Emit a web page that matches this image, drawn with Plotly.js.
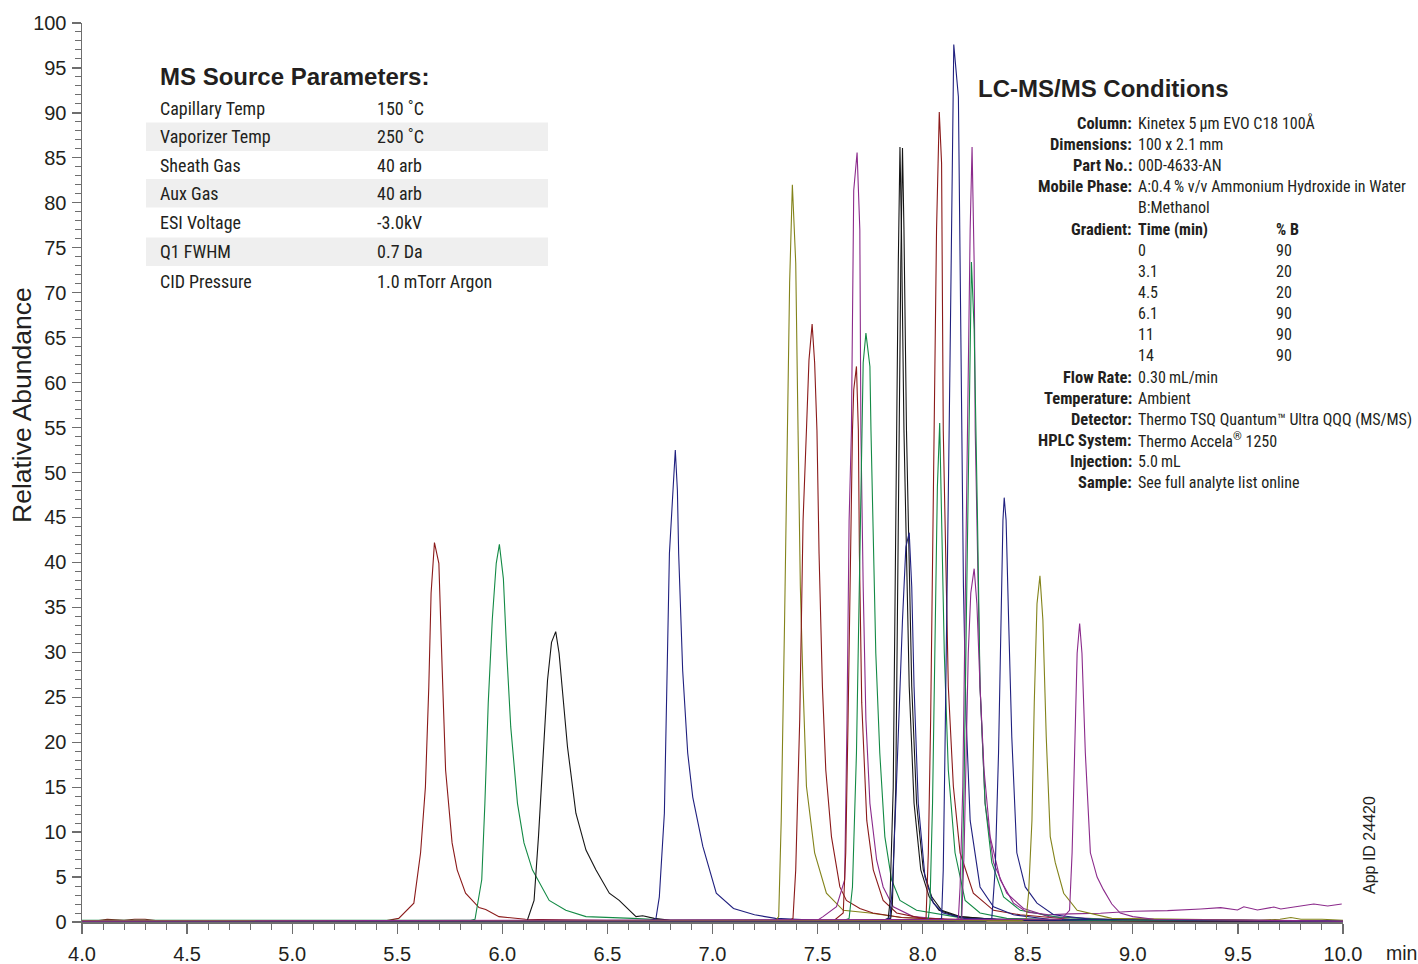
<!DOCTYPE html>
<html>
<head>
<meta charset="utf-8">
<script src="https://cdn.plot.ly/plotly-3.0.1.min.js"></script>
<style>
  html, body { margin: 0; padding: 0; background: #fff; }
  #chart { width: 1418px; height: 964px; }
</style>
</head>
<body>
<div id="chart"></div>
<script>
// ---------------- DATA (retention time in min, relative abundance in %) ----------------
const t01 = [4.0, 4.08, 4.12, 4.2, 4.25, 4.3, 4.35, 5.45, 5.507, 5.579, 5.611, 5.634, 5.650, 5.661, 5.677, 5.698, 5.714, 5.730, 5.761, 5.785, 5.825, 5.889, 5.921, 5.984, 6.11, 6.5, 10.0];
const a01 = [0.1, 0.15, 0.3, 0.2, 0.3, 0.3, 0.15, 0.15, 0.4, 2.1, 7.7, 15.0, 26.1, 36.6, 42.2, 39.9, 28.0, 16.9, 8.8, 5.8, 3.2, 1.6, 1.4, 0.6, 0.3, 0.15, 0.1];

const t02 = [4.0, 5.85, 5.870, 5.902, 5.917, 5.933, 5.952, 5.971, 5.986, 6.005, 6.021, 6.040, 6.072, 6.103, 6.143, 6.223, 6.302, 6.398, 6.62, 6.8, 10.0];
const a02 = [0.2, 0.2, 0.3, 4.7, 13.2, 24.4, 33.6, 39.9, 42.0, 38.2, 29.9, 21.7, 13.2, 8.8, 5.8, 2.4, 1.3, 0.6, 0.4, 0.2, 0.15];

const t03 = [4.0, 6.10, 6.119, 6.151, 6.172, 6.194, 6.215, 6.234, 6.254, 6.270, 6.286, 6.310, 6.350, 6.398, 6.445, 6.509, 6.556, 6.636, 6.668, 6.723, 6.8, 10.0];
const a03 = [0.1, 0.1, 0.2, 2.4, 9.5, 18.8, 26.9, 31.1, 32.3, 29.9, 25.5, 19.5, 12.1, 8.0, 5.8, 3.2, 2.4, 0.6, 0.7, 0.4, 0.2, 0.1];

const t04 = [4.0, 6.70, 6.731, 6.747, 6.771, 6.782, 6.795, 6.823, 6.833, 6.839, 6.858, 6.882, 6.906, 6.954, 7.018, 7.1, 7.2, 7.3, 7.5, 10.0];
const a04 = [0.1, 0.1, 0.4, 2.8, 12.1, 26.2, 41.0, 52.5, 48.0, 41.0, 28.0, 18.8, 13.9, 8.4, 3.2, 1.5, 0.8, 0.4, 0.2, 0.1];

const t05 = [4.0, 7.30, 7.315, 7.327, 7.343, 7.356, 7.367, 7.380, 7.396, 7.407, 7.418, 7.431, 7.447, 7.486, 7.542, 7.622, 7.749, 7.9, 8.1, 8.5, 9.0, 10.0];
const a05 = [0.15, 0.15, 0.6, 11.3, 33.6, 54.7, 71.1, 82.0, 73.3, 54.7, 37.3, 26.2, 15.1, 7.7, 3.2, 1.3, 1.0, 0.5, 0.3, 0.2, 0.15, 0.15];

const t06 = [4.0, 7.36, 7.383, 7.396, 7.415, 7.431, 7.447, 7.459, 7.474, 7.486, 7.497, 7.507, 7.523, 7.539, 7.566, 7.606, 7.637, 7.701, 7.763, 7.9, 8.2, 10.0];
const a06 = [0.1, 0.1, 0.4, 5.8, 22.5, 44.7, 54.7, 62.5, 66.5, 62.2, 54.7, 41.0, 26.2, 16.9, 9.5, 3.9, 2.4, 1.5, 1.0, 0.5, 0.2, 0.1];

const t07 = [4.0, 7.45, 7.50, 7.526, 7.590, 7.629, 7.640, 7.650, 7.661, 7.672, 7.688, 7.701, 7.706, 7.717, 7.730, 7.749, 7.781, 7.812, 7.860, 7.955, 8.1, 10.0];
const a07 = [0.1, 0.1, 0.2, 0.6, 1.7, 4.7, 22.5, 44.7, 54.7, 81.4, 85.6, 77.0, 54.7, 37.3, 22.5, 13.2, 6.9, 3.9, 1.7, 0.6, 0.3, 0.1];

const t08 = [4.0, 7.58, 7.622, 7.634, 7.645, 7.656, 7.666, 7.672, 7.685, 7.694, 7.699, 7.710, 7.734, 7.765, 7.812, 7.876, 8.0, 8.3, 10.0];
const a08 = [0.1, 0.2, 1.0, 7.7, 22.5, 41.0, 54.7, 59.2, 61.8, 54.7, 41.0, 24.4, 11.3, 5.8, 2.4, 1.0, 0.4, 0.2, 0.1];

const t09 = [4.0, 7.62, 7.650, 7.666, 7.685, 7.698, 7.710, 7.717, 7.730, 7.749, 7.754, 7.762, 7.777, 7.796, 7.820, 7.852, 7.892, 7.971, 8.051, 8.2, 8.5, 10.0];
const a09 = [0.15, 0.15, 0.4, 3.9, 18.8, 37.3, 54.7, 62.2, 65.5, 61.8, 54.7, 44.7, 29.9, 18.8, 9.5, 4.7, 2.4, 1.3, 1.0, 0.4, 0.2, 0.15];

const t10 = [4.0, 7.80, 7.836, 7.844, 7.860, 7.876, 7.884, 7.892, 7.899, 7.911, 7.920, 7.936, 7.959, 7.991, 8.031, 8.078, 8.166, 8.4, 10.0];
const a10 = [0.1, 0.1, 0.4, 2.1, 15.0, 55.8, 73.3, 86.2, 77.0, 54.7, 44.7, 26.2, 13.2, 5.8, 2.8, 1.3, 0.6, 0.2, 0.1];

const t11 = [4.0, 7.81, 7.848, 7.856, 7.872, 7.888, 7.896, 7.904, 7.911, 7.923, 7.932, 7.948, 7.971, 8.003, 8.043, 8.090, 8.178, 8.4, 10.0];
const a11 = [0.1, 0.1, 0.4, 2.1, 15.0, 55.8, 73.3, 86.1, 77.0, 54.7, 44.7, 26.2, 13.2, 5.8, 2.8, 1.3, 0.6, 0.2, 0.1];

const t12 = [4.0, 7.80, 7.844, 7.856, 7.872, 7.888, 7.904, 7.920, 7.936, 7.948, 7.959, 7.979, 8.011, 8.051, 8.098, 8.2, 8.5, 10.0];
const a12 = [0.1, 0.1, 0.4, 3.9, 13.2, 24.4, 33.6, 41.7, 43.3, 37.3, 26.2, 13.2, 5.0, 2.1, 1.0, 0.4, 0.2, 0.1];

const t13 = [4.0, 7.98, 8.016, 8.027, 8.038, 8.047, 8.055, 8.066, 8.079, 8.090, 8.098, 8.106, 8.122, 8.146, 8.178, 8.241, 8.337, 8.464, 8.7, 10.0];
const a13 = [0.1, 0.1, 0.4, 7.7, 22.5, 41.0, 54.7, 77.0, 90.1, 84.4, 54.7, 44.7, 26.2, 15.1, 7.7, 3.2, 1.3, 0.8, 0.3, 0.1];

const t14 = [4.0, 8.0, 8.027, 8.035, 8.047, 8.059, 8.070, 8.081, 8.090, 8.103, 8.122, 8.154, 8.202, 8.273, 8.4, 8.8, 10.0];
const a14 = [0.15, 0.15, 0.4, 2.1, 13.2, 29.9, 48.4, 55.5, 44.7, 29.9, 16.9, 7.7, 2.4, 1.0, 0.4, 0.2, 0.15];

const t15 = [4.0, 8.06, 8.090, 8.098, 8.106, 8.118, 8.126, 8.130, 8.138, 8.148, 8.170, 8.178, 8.186, 8.194, 8.207, 8.226, 8.273, 8.337, 8.432, 8.6, 10.0];
const a15 = [0.1, 0.1, 0.4, 5.8, 18.8, 37.3, 54.7, 62.2, 80.7, 97.6, 91.8, 73.3, 54.7, 37.3, 22.5, 11.3, 3.9, 1.7, 0.8, 0.3, 0.1];

const t16 = [4.0, 8.14, 8.170, 8.178, 8.191, 8.202, 8.213, 8.226, 8.235, 8.245, 8.250, 8.261, 8.273, 8.297, 8.337, 8.400, 8.480, 8.6, 9.0, 10.0];
const a16 = [0.1, 0.1, 0.4, 3.9, 15.1, 33.6, 54.7, 77.0, 86.2, 73.3, 54.7, 41.0, 26.2, 13.2, 6.6, 3.2, 1.5, 0.6, 0.2, 0.1];

const t17 = [4.0, 8.15, 8.184, 8.197, 8.210, 8.219, 8.226, 8.232, 8.245, 8.254, 8.261, 8.273, 8.297, 8.329, 8.385, 8.464, 8.65, 9.0, 10.0];
const a17 = [0.15, 0.15, 0.4, 15.1, 37.3, 54.7, 65.9, 73.4, 65.9, 54.7, 44.7, 26.2, 13.2, 6.6, 2.8, 1.3, 0.5, 0.2, 0.15];

const t18 = [4.0, 8.15, 8.186, 8.197, 8.207, 8.217, 8.229, 8.245, 8.258, 8.273, 8.292, 8.321, 8.369, 8.432, 8.496, 8.6, 8.7, 8.846, 9.003, 9.165, 9.323, 9.418, 9.498, 9.528, 9.593, 9.671, 9.704, 9.799, 9.861, 9.927, 9.994];
const a18 = [0.1, 0.1, 0.4, 7.7, 18.8, 29.9, 36.6, 39.3, 35.4, 26.2, 16.9, 9.5, 4.7, 2.1, 1.1, 0.8, 0.9, 0.97, 1.2, 1.26, 1.45, 1.6, 1.34, 1.7, 1.34, 1.67, 1.45, 1.78, 2.0, 1.78, 2.0];

const t19 = [4.0, 8.30, 8.329, 8.345, 8.361, 8.372, 8.382, 8.388, 8.397, 8.409, 8.424, 8.448, 8.488, 8.544, 8.623, 8.8, 10.0];
const a19 = [0.1, 0.1, 0.4, 5.8, 18.8, 33.6, 44.7, 47.2, 44.7, 33.6, 20.6, 7.7, 3.9, 2.1, 0.8, 0.3, 0.1];

const t20 = [4.0, 8.47, 8.493, 8.504, 8.520, 8.531, 8.544, 8.558, 8.572, 8.588, 8.607, 8.631, 8.671, 8.735, 8.9, 9.6, 9.7, 9.752, 9.8, 9.9, 10.0];
const a20 = [0.15, 0.15, 0.4, 3.2, 11.3, 24.4, 35.4, 38.5, 33.6, 20.6, 9.5, 6.6, 3.2, 1.3, 0.4, 0.2, 0.3, 0.5, 0.3, 0.3, 0.2];

const t21 = [4.0, 8.66, 8.699, 8.711, 8.723, 8.735, 8.747, 8.758, 8.774, 8.798, 8.830, 8.86, 8.90, 8.94, 9.0, 9.1, 10.0];
const a21 = [0.1, 0.3, 1.3, 7.7, 18.8, 29.9, 33.2, 29.9, 18.8, 7.7, 5.0, 3.6, 2.0, 1.0, 0.6, 0.3, 0.1];

const seriesT = [t01, t02, t03, t04, t05, t06, t07, t08, t09, t10, t11, t12, t13, t14, t15, t16, t17, t18, t19, t20, t21];
const seriesA = [a01, a02, a03, a04, a05, a06, a07, a08, a09, a10, a11, a12, a13, a14, a15, a16, a17, a18, a19, a20, a21];

// Text content
const msTitle = "MS Source Parameters:";
const msNames = ["Capillary Temp", "Vaporizer Temp", "Sheath Gas", "Aux Gas", "ESI Voltage", "Q1 FWHM", "CID Pressure"];
const msValues = ["150 ˚C", "250 ˚C", "40 arb", "40 arb", "-3.0kV", "0.7 Da", "1.0 mTorr Argon"];

const lcTitle = "LC-MS/MS Conditions";
const lcLabels = ["Column:", "Dimensions:", "Part No.:", "Mobile Phase:", "", "Gradient:", "", "", "", "", "", "", "Flow Rate:", "Temperature:", "Detector:", "HPLC System:", "Injection:", "Sample:"];
const lcValues = ["Kinetex 5\u2009µm EVO C18 100Å", "100 x 2.1\u2009mm", "00D-4633-AN", "A:0.4\u2009% v/v Ammonium Hydroxide in Water", "B:Methanol", "<b>Time (min)</b>", "0", "3.1", "4.5", "6.1", "11", "14", "0.30\u2009mL/min", "Ambient", "Thermo TSQ Quantum™ Ultra QQQ (MS/MS)", "Thermo Accela<sup>®</sup> 1250", "5.0\u2009mL", "See full analyte list online"];
const lcPctB = ["", "", "", "", "", "<b>% B</b>", "90", "20", "20", "90", "90", "90", "", "", "", "", "", ""];

const xTickUnit = "min";
const yTitle = "Relative Abundance";
const appId = "App ID 24420";

// ---------------- STYLE ----------------
const C_RED = "#8b1a1a", C_GRN = "#138a45", C_BLK = "#151515", C_NAV = "#20207f", C_OLV = "#83831a", C_PUR = "#8b2a8b";
const seriesColor = [C_RED, C_GRN, C_BLK, C_NAV, C_OLV, C_RED, C_PUR, C_RED, C_GRN, C_BLK, C_BLK, C_NAV, C_RED, C_GRN, C_NAV, C_PUR, C_GRN, C_PUR, C_NAV, C_OLV, C_PUR];

const NARROW = "'Liberation Sans Narrow', 'Arial Narrow', 'Roboto Condensed', Roboto, sans-serif";
const SANS = "'Liberation Sans', Arial, Helvetica, sans-serif";
const TXT = "#231f20";

// plot-area pixel geometry
const L = 82, R = 1343, T = 23, B = 922;
const px = x => (x - L) / (R - L);
const py = y => (B - y) / (B - T);

const traces = seriesT.map((t, i) => ({
  type: "scatter", mode: "lines", x: t, y: seriesA[i],
  line: { color: seriesColor[i], width: 1.1 }, hoverinfo: "skip"
}));

const ann = [];
const shapes = [];
// MS Source block
ann.push({ xref: "paper", yref: "paper", x: px(158), y: py(76.5), xanchor: "left", yanchor: "middle",
  text: "<b>" + msTitle + "</b>", showarrow: false, font: { family: SANS, size: 24, color: TXT } });
const msRowY = [108.3, 136.7, 165, 193.3, 222.7, 251.7, 281];
msNames.forEach((n, i) => {
  ann.push({ xref: "paper", yref: "paper", x: px(158), y: py(msRowY[i]), xanchor: "left", yanchor: "middle",
    text: n, showarrow: false, font: { family: NARROW, size: 18, color: TXT } });
  ann.push({ xref: "paper", yref: "paper", x: px(375), y: py(msRowY[i]), xanchor: "left", yanchor: "middle",
    text: msValues[i], showarrow: false, font: { family: NARROW, size: 18, color: TXT } });
  if (i % 2 === 1) {
    shapes.push({ type: "rect", xref: "paper", yref: "paper", x0: px(146), x1: px(548),
      y0: py(msRowY[i] - 14.3), y1: py(msRowY[i] + 14.3), fillcolor: "#efefef", line: { width: 0 }, layer: "below" });
  }
});

// LC-MS/MS block
ann.push({ xref: "paper", yref: "paper", x: px(976), y: py(88.3), xanchor: "left", yanchor: "middle",
  text: "<b>" + lcTitle + "</b>", showarrow: false, font: { family: SANS, size: 24, color: TXT } });
const lcY0 = 123.3, lcStep = 21.15;
lcLabels.forEach((lab, i) => {
  const yy = py(lcY0 + i * lcStep);
  if (lab) ann.push({ xref: "paper", yref: "paper", x: px(1134), y: yy, xanchor: "right", yanchor: "middle",
    text: "<b>" + lab + "</b>", showarrow: false, font: { family: NARROW, size: 16.5, color: TXT } });
  if (lcValues[i]) ann.push({ xref: "paper", yref: "paper", x: px(1136), y: yy, xanchor: "left", yanchor: "middle",
    text: lcValues[i], showarrow: false, font: { family: NARROW, size: 16, color: TXT } });
  if (lcPctB[i]) ann.push({ xref: "paper", yref: "paper", x: px(1274), y: yy, xanchor: "left", yanchor: "middle",
    text: lcPctB[i], showarrow: false, font: { family: NARROW, size: 16, color: TXT } });
});

// axis extras
ann.push({ xref: "paper", yref: "paper", x: px(22), y: py(405), xanchor: "center", yanchor: "middle", textangle: -90,
  text: yTitle, showarrow: false, font: { family: SANS, size: 26.5, color: TXT } });
ann.push({ xref: "paper", yref: "paper", x: px(1384), y: py(953), xanchor: "left", yanchor: "middle",
  text: xTickUnit, showarrow: false, font: { family: SANS, size: 19.5, color: TXT } });
ann.push({ xref: "paper", yref: "paper", x: px(1369), y: py(845), xanchor: "center", yanchor: "middle", textangle: -90,
  text: appId, showarrow: false, font: { family: SANS, size: 16, color: TXT } });

const AX = "#6e6e6e";
const layout = {
  width: 1418, height: 964,
  margin: { l: L, r: 1418 - R, t: T, b: 964 - B, pad: 0 },
  paper_bgcolor: "#fff", plot_bgcolor: "#fff",
  showlegend: false,
  xaxis: {
    range: [4, 10], tick0: 4, dtick: 0.5, tickformat: ".1f",
    showgrid: false, zeroline: false, showline: true, linecolor: AX, linewidth: 1.5,
    ticks: "outside", ticklen: 10, tickcolor: AX, tickwidth: 1.2, ticklabelstandoff: 3,
    tickfont: { family: SANS, size: 20, color: TXT },
    minor: { dtick: 0.1, ticks: "outside", ticklen: 6, tickcolor: AX, tickwidth: 1, showgrid: false }
  },
  yaxis: {
    range: [0, 100], tick0: 0, dtick: 5,
    showgrid: false, zeroline: false, showline: true, linecolor: AX, linewidth: 1.5,
    ticks: "outside", ticklen: 9, tickcolor: AX, tickwidth: 1.2, ticklabelstandoff: 1,
    tickfont: { family: SANS, size: 20, color: TXT },
    minor: { dtick: 1, ticks: "outside", ticklen: 6, tickcolor: AX, tickwidth: 1, showgrid: false }
  },
  annotations: ann,
  shapes: shapes
};

Plotly.newPlot("chart", traces, layout, { staticPlot: true, displayModeBar: false });
</script>
</body>
</html>
